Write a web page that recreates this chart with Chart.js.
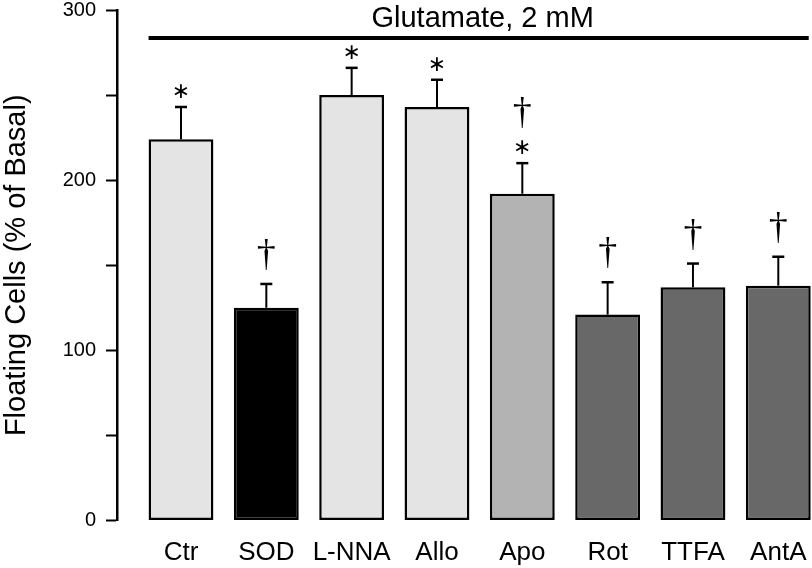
<!DOCTYPE html>
<html><head><meta charset="utf-8">
<script src="https://cdn.jsdelivr.net/npm/chart.js@4/dist/chart.umd.min.js"></script>
<style>html,body{margin:0;padding:0;background:#fff;}</style>
</head><body>
<canvas id="c" width="812" height="568"></canvas>
<script>
const categories = ['Ctr','SOD','L-NNA','Allo','Apo','Rot','TTFA','AntA'];
const values = [224,125,250,243,192,121,137,138];
const errors = [19,14,16,16,18,19,14,17];
const marks = [['∗'],['†'],['∗'],['∗'],['∗','†'],['†'],['†'],['†']];
const barColors = ['#e4e4e4','#000000','#e4e4e4','#e4e4e4','#b3b3b3','#686868','#686868','#686868'];
const yTicks = [0,50,100,150,200,250,300];
const yTickLabels = ['0','','100','','200','','300'];
const bracketLabel = 'Glutamate, 2 mM';
const bracketValue = 283.5;
const yAxisTitle = 'Floating Cells (% of Basal)';

const markFonts = { '∗': '22px "DejaVu Sans"', '†': '38px "Liberation Serif"' };

const overlay = {
  id: 'overlay',
  afterDatasetsDraw(chart) {
    const ctx = chart.ctx, y = chart.scales.y;
    const meta = chart.getDatasetMeta(0);
    ctx.save();
    ctx.strokeStyle = '#000'; ctx.fillStyle = '#000';
    meta.data.forEach((bar, i) => {
      const cx = bar.x;
      const top = y.getPixelForValue(values[i]);
      const cap = y.getPixelForValue(values[i] + errors[i]);
      ctx.lineWidth = 2;
      ctx.beginPath(); ctx.moveTo(cx, top); ctx.lineTo(cx, cap); ctx.stroke();
      ctx.lineWidth = 2.5;
      ctx.beginPath(); ctx.moveTo(cx - 6, cap); ctx.lineTo(cx + 6, cap); ctx.stroke();
      let bottom = cap;
      marks[i].forEach((m, k) => {
        const gap = k === 0 ? (m === '∗' ? 9 : 14) : 12;
        ctx.font = markFonts[m];
        ctx.textAlign = 'center'; ctx.textBaseline = 'alphabetic';
        const mt = ctx.measureText(m);
        const b = bottom - gap;
        ctx.fillText(m, cx, b - mt.actualBoundingBoxDescent);
        bottom = b - mt.actualBoundingBoxAscent - mt.actualBoundingBoxDescent;
      });
    });
    const first = meta.data[0], last = meta.data[meta.data.length - 1];
    const ly = y.getPixelForValue(bracketValue);
    const x0 = first.x - first.width / 2, x1 = last.x + last.width / 2 - 2;
    ctx.lineWidth = 4;
    ctx.beginPath(); ctx.moveTo(x0, ly); ctx.lineTo(x1, ly); ctx.stroke();
    ctx.font = '29px "Liberation Sans"'; ctx.textAlign = 'center'; ctx.textBaseline = 'alphabetic';
    ctx.fillText(bracketLabel, (x0 + x1) / 2 + 4, ly - 11);
    ctx.restore();
  }
};

new Chart(document.getElementById('c'), {
  type: 'bar',
  data: { datasets: [{
    data: values.map((v, i) => ({ x: i, y: v })),
    backgroundColor: barColors, borderColor: '#000', borderWidth: 2.5, borderSkipped: false,
    barPercentage: 0.76, categoryPercentage: 1
  }]},
  options: {
    responsive: false, animation: false, devicePixelRatio: 1,
    layout: { autoPadding: false, padding: { top: 10, right: 0, bottom: 0, left: 0 } },
    plugins: { legend: { display: false }, tooltip: { enabled: false } },
    scales: {
      x: {
        type: 'linear', min: -0.75, max: 7.395, offset: false,
        grid: { display: false, offset: false }, border: { display: false },
        afterBuildTicks(s) { s.ticks = categories.map((_, i) => ({ value: i })); },
        afterFit(s) { s.height = 47.5; s.paddingLeft = 0; s.paddingRight = 0; s.paddingTop = 0; s.paddingBottom = 0; },
        ticks: { autoSkip: false, maxRotation: 0, padding: 9, color: '#000',
          font: { family: '"Liberation Sans"', size: 26 },
          callback: (v) => categories[v] ?? '' }
      },
      y: {
        type: 'linear', min: 0, max: 300,
        afterBuildTicks(s) { s.ticks = yTicks.map(v => ({ value: v })); },
        afterFit(s) { s.width = 117; s.paddingTop = 0; s.paddingBottom = 0; s.paddingLeft = 0; s.paddingRight = 0; },
        grid: { drawOnChartArea: false, drawTicks: true, tickLength: 11, tickWidth: 2, tickColor: '#000' },
        border: { display: true, color: '#000', width: 2.5 },
        ticks: { padding: 10, color: '#000', font: { family: '"Liberation Sans"', size: 20 },
          callback: (v) => yTickLabels[yTicks.indexOf(v)] },
        title: { display: true, text: yAxisTitle, color: '#000',
          font: { family: '"Liberation Sans"', size: 29 }, padding: { top: 0, bottom: 0 } }
      }
    }
  },
  plugins: [overlay]
});
</script>
</body></html>
